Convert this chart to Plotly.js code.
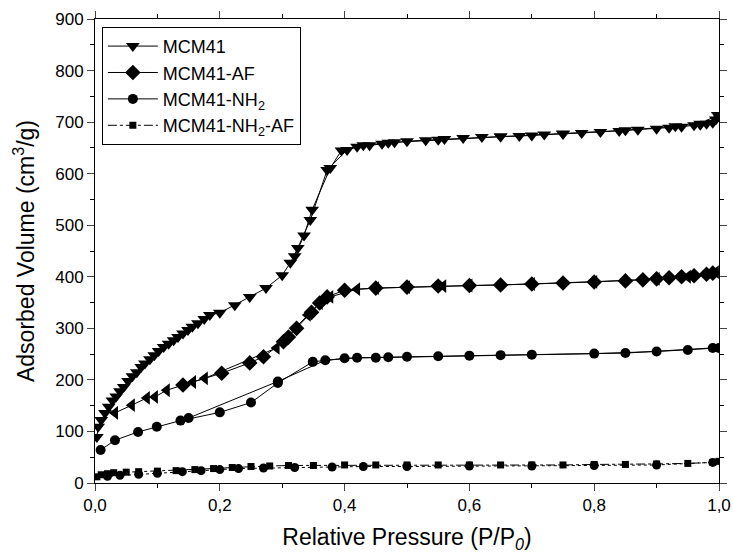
<!DOCTYPE html>
<html><head><meta charset="utf-8">
<script src="https://cdn.plot.ly/plotly-3.0.1.min.js"></script>
<style>body{margin:0;background:#fff}#chart{width:734px;height:559px}</style>
</head><body><div id="chart"></div>
<script>
// MCM41 (adsorption, down triangles)
const mcmAdsP = [0.003,0.005,0.01,0.016,0.022,0.028,0.034,0.04,0.046,0.053,0.06,0.067,0.074,0.08,0.088,0.095,0.102,0.11,0.118,0.126,0.133,0.141,0.149,0.156,0.165,0.175,0.184,0.2,0.224,0.248,0.274,0.30,0.313,0.325,0.345,0.372,0.404,0.42,0.44,0.46,0.48,0.5,0.53,0.56,0.59,0.62,0.65,0.68,0.7,0.72,0.75,0.78,0.81,0.84,0.87,0.9,0.92,0.94,0.96,0.97,0.98,0.99,0.995];
const mcmAdsV = [89,109,122,136,148,160,168,178,186,198,207,215,225,232,240,248,256,264,270,277,283,290,297,303,310,318,326,330,345,361,378,403,427,456,510,607,646,652,655,658,661,663,665,667,669,671,672,673,674,676,677,679,681,683,685,687,689,691,694,695,697,699,705];
// MCM41 (desorption)
const mcmDesP = [0.998,0.97,0.93,0.85,0.75,0.65,0.55,0.47,0.43,0.395,0.377,0.348,0.335,0.32];
const mcmDesV = [714,697,692,684,678,672,666,660,655,645,611,530,480,440];
// MCM41-AF (adsorption diamonds, desorption left triangles)
const afAdsP = [0.141,0.203,0.248,0.27,0.302,0.31,0.323,0.347,0.36,0.372,0.40,0.45,0.5,0.55,0.6,0.65,0.7,0.75,0.8,0.85,0.878,0.9,0.92,0.94,0.96,0.98,0.99];
const afAdsV = [190,213,233,245,274,283,300,331,349,361,374,378,380,382,383,384,386,388,390,392,394,396,398,400,402,405,407];
const afDesP = [0.995,0.95,0.9,0.8,0.7,0.6,0.558,0.5,0.45,0.42,0.377,0.36,0.341,0.291,0.176,0.157,0.115,0.096,0.083,0.059,0.032];
const afDesV = [409,400,396,390,386,383,382,380,378,376,361,349,326,262,203,196,180,167,165,151,136];
// MCM41-NH2
const nhAdsP = [0.009,0.032,0.069,0.099,0.137,0.2,0.25,0.293,0.349,0.4,0.45,0.5,0.6,0.7,0.8,0.9,0.95,1.0];
const nhAdsV = [64,83,99,109,121,137,156,194,235,242,243,245,247,249,251,255,258,262];
const nhDesP = [0.99,0.85,0.65,0.55,0.47,0.42,0.369,0.293,0.15];
const nhDesV = [262,252,248,246,244,243,238,197,126];
// MCM41-NH2-AF
const nafAdsP = [0.003,0.01,0.02,0.03,0.05,0.07,0.1,0.13,0.16,0.19,0.22,0.25,0.28,0.31,0.35,0.4,0.45,0.5,0.55,0.6,0.65,0.7,0.75,0.8,0.85,0.9,0.95,0.99,1.0];
const nafAdsV = [12,16,18,20,21,22,23,24,26,28,30,32,33,34,34,35,35,35,35,35,35,35,35,36,36,37,38,40,42];
const nafDesP = [0.99,0.9,0.8,0.7,0.6,0.5,0.43,0.38,0.32,0.27,0.23,0.2,0.17,0.14,0.1,0.07,0.04,0.02];
const nafDesV = [40,35,34,33,33,32,32,31,30,29,28,26,24,22,19,17,15,13];

const names = ['MCM41','MCM41-AF','MCM41-NH<sub>2</sub>','MCM41-NH<sub>2</sub>-AF'];

function tr(x,y,name,sym,size,show,dash){
  return {x:x,y:y,type:'scatter',mode:'lines+markers',name:name,showlegend:show,legendgroup:name,
    line:{color:'#000',width:1,dash:dash||'solid'},
    marker:{symbol:sym,size:size,color:'#000'}};
}
const data = [
  tr(mcmAdsP,mcmAdsV,names[0],'triangle-down',12,true),
  tr(mcmDesP,mcmDesV,names[0],'triangle-down',12,false),
  tr(afAdsP,afAdsV,names[1],'diamond',12,true),
  tr(afDesP,afDesV,names[1],'triangle-left',12,false),
  tr(nhAdsP,nhAdsV,names[2],'circle',10,true),
  tr(nhDesP,nhDesV,names[2],'circle',10,false),
  tr(nafAdsP,nafAdsV,names[3],'square',7,true,'dashdot'),
  tr(nafDesP,nafDesV,names[3],'circle',9,false,'dot')
];
const layout = {
  width:734,height:559,
  margin:{l:95,r:15,t:19,b:76},
  paper_bgcolor:'#fff',plot_bgcolor:'#fff',
  font:{family:'"Liberation Sans", Arial, sans-serif',color:'#000',size:17},
  separators:',.',
  showlegend:true,
  legend:{x:0.011,y:0.983,xanchor:'left',yanchor:'top',bordercolor:'#000',borderwidth:1,
    font:{size:18},bgcolor:'#fff',tracegroupgap:0,itemwidth:50},
  xaxis:{range:[0,1],dtick:0.2,tick0:0,tickformat:'.1f',ticks:'outside',ticklen:7,tickwidth:1,
    showline:true,linecolor:'#000',linewidth:1,mirror:'ticks',showgrid:false,zeroline:false,
    minor:{dtick:0.1,ticklen:4,ticks:'outside',tickcolor:'#000'},
    title:{text:'Relative Pressure (P/P<sub><i>0</i></sub>)',font:{size:23},standoff:14}},
  yaxis:{range:[0,900],dtick:100,tick0:0,ticks:'outside',ticklen:7,tickwidth:1,
    showline:true,linecolor:'#000',linewidth:1,mirror:'ticks',showgrid:false,zeroline:false,
    minor:{dtick:50,ticklen:4,ticks:'outside',tickcolor:'#000'},
    title:{text:'Adsorbed Volume (cm<sup>3</sup>/g)',font:{size:23},standoff:14}}
};
Plotly.newPlot('chart',data,layout,{displayModeBar:false,staticPlot:true});
</script></body></html>
